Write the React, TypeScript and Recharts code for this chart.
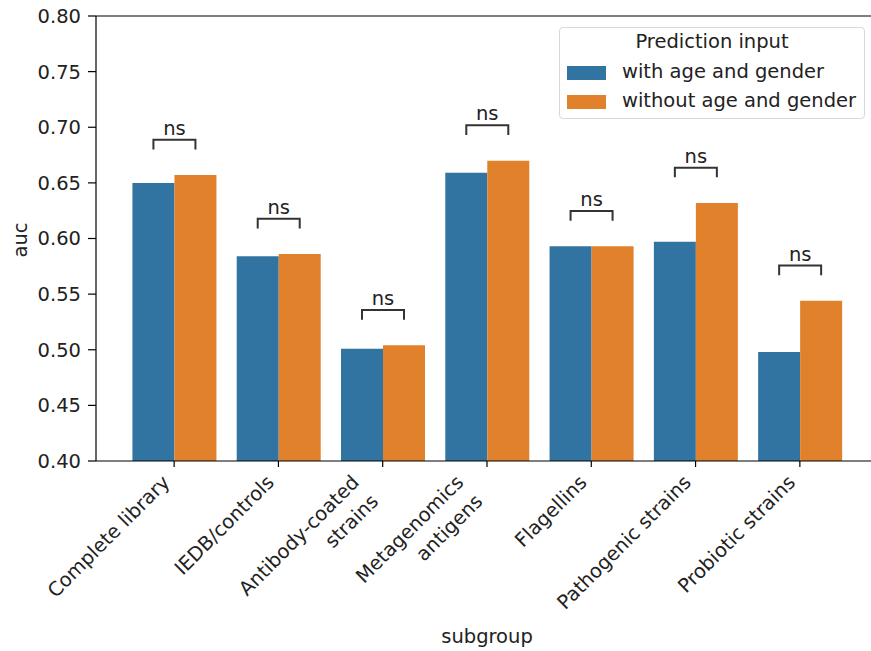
import { BarChart, Bar, XAxis, YAxis, ReferenceLine } from 'recharts';

const subgroups = [
  'Complete library',
  'IEDB/controls',
  'Antibody-coated\nstrains',
  'Metagenomics\nantigens',
  'Flagellins',
  'Pathogenic strains',
  'Probiotic strains',
];
const withAgeGender = [0.650, 0.584, 0.501, 0.659, 0.593, 0.597, 0.498];
const withoutAgeGender = [0.657, 0.586, 0.504, 0.670, 0.593, 0.632, 0.544];
const yTicks = [0.4, 0.45, 0.5, 0.55, 0.6, 0.65, 0.7, 0.75, 0.8];
const annotations = ['ns', 'ns', 'ns', 'ns', 'ns', 'ns', 'ns'];

const BLUE = '#3274a1';
const ORANGE = '#e1812c';
const FONT = '"DejaVu Sans", sans-serif';
const FS = 19.5;

const data = subgroups.map((name, i) => ({
  name,
  withAG: withAgeGender[i],
  withoutAG: withoutAgeGender[i],
}));

const XTick = (props: any) => {
  const { x, y, payload } = props;
  const lines: string[] = String(payload.value).split('\n');
  const lh = 27;
  const desc = FS * 0.24;
  const asc = FS * 0.76;
  const tx = x - 0.707 * ((lines.length - 1) * lh + desc);
  const ty = y + 4 + 0.707 * asc;
  return (
    <text
      transform={`translate(${tx},${ty}) rotate(-45)`}
      textAnchor="end"
      fontFamily={FONT}
      fontSize={FS}
      fill="#222"
    >
      {lines.map((l, i) => (
        <tspan key={i} x={0} dy={i === 0 ? 0 : lh}>
          {l}
        </tspan>
      ))}
    </text>
  );
};

// bracket + "ns" drawn on top of the orange bar of each group
const Bracket = (props: any) => {
  const { x, y, width, height, index } = props;
  const i = typeof index === 'number' ? index : 0;
  const hi = withoutAgeGender[i];
  const lo = withAgeGender[i];
  const ppu = height / (hi - 0.4);
  const base = y + height;
  const toY = (v: number) => base - (v - 0.4) * ppu;
  const bottom = Math.max(hi, lo) + 0.023;
  const yb = toY(bottom);
  const yt = toY(bottom + 0.0087);
  const x1 = x - width / 2;
  const x2 = x + width / 2;
  return (
    <g>
      <path
        d={`M${x1},${yb} L${x1},${yt} L${x2},${yt} L${x2},${yb}`}
        fill="none"
        stroke="#333"
        strokeWidth={2}
      />
      <text x={x} y={yt - 5} textAnchor="middle" fontFamily={FONT} fontSize={FS} fill="#222">
        {annotations[i]}
      </text>
    </g>
  );
};

const LegendBox = () => (
  <div
    style={{
      position: 'absolute',
      left: 559,
      top: 27,
      width: 306,
      height: 92,
      border: '1px solid #d8d8d8',
      borderRadius: 4,
      background: 'rgba(255,255,255,0.8)',
      fontFamily: FONT,
      fontSize: FS,
      color: '#222',
      boxSizing: 'border-box',
    }}
  >
    <div style={{ position: 'absolute', top: 2, left: 0, width: '100%', textAlign: 'center' }}>
      Prediction input
    </div>
    {[
      { label: 'with age and gender', color: BLUE, top: 38 },
      { label: 'without age and gender', color: ORANGE, top: 67 },
    ].map((e) => (
      <div key={e.label}>
        <div
          style={{ position: 'absolute', left: 7, top: e.top, width: 39, height: 14, background: e.color }}
        />
        <div style={{ position: 'absolute', left: 62, top: e.top - 6, whiteSpace: 'nowrap' }}>{e.label}</div>
      </div>
    ))}
  </div>
);

export default function App() {
  return (
    <div
      style={{
        position: 'absolute',
        left: 0,
        top: 0,
        width: 871,
        height: 651,
        overflow: 'hidden',
        background: '#fff',
      }}
    >
      <BarChart
        width={885}
        height={651}
        data={data}
        margin={{ top: 16, right: 7, left: 0, bottom: 0 }}
        barCategoryGap="10%"
        barGap={0}
      >
        <XAxis
          dataKey="name"
          height={190}
          padding={{ left: 26, right: 26 }}
          interval={0}
          tick={<XTick />}
          tickSize={6}
          axisLine={{ stroke: '#000', strokeWidth: 1.2 }}
          tickLine={{ stroke: '#000', strokeWidth: 1.2 }}
          label={(p: any) => {
            const vb = p.viewBox || {};
            return (
              <text
                x={vb.x + vb.width / 2}
                y={643}
                textAnchor="middle"
                fontFamily={FONT}
                fontSize={FS}
                fill="#222"
              >
                subgroup
              </text>
            );
          }}
        />
        <YAxis
          width={96}
          domain={[0.4, 0.8]}
          ticks={yTicks}
          allowDataOverflow
          tickFormatter={(v: number) => v.toFixed(2)}
          tickSize={8}
          tickMargin={7}
          tick={{ fontFamily: FONT, fontSize: FS, fill: '#222' }}
          axisLine={{ stroke: '#000', strokeWidth: 1.2 }}
          tickLine={{ stroke: '#000', strokeWidth: 1.2 }}
          label={() => (
            <text
              transform="translate(27,240) rotate(-90)"
              textAnchor="middle"
              fontFamily={FONT}
              fontSize={FS}
              fill="#222"
            >
              auc
            </text>
          )}
        />
        <ReferenceLine y={0.8} stroke="#000" strokeWidth={1.2} />
        <Bar
          dataKey="withAG"
          name="with age and gender"
          fill={BLUE}
          isAnimationActive={false}
        />
        <Bar
          dataKey="withoutAG"
          name="without age and gender"
          fill={ORANGE}
          isAnimationActive={false}
          label={<Bracket />}
        />
      </BarChart>
      <LegendBox />
    </div>
  );
}
